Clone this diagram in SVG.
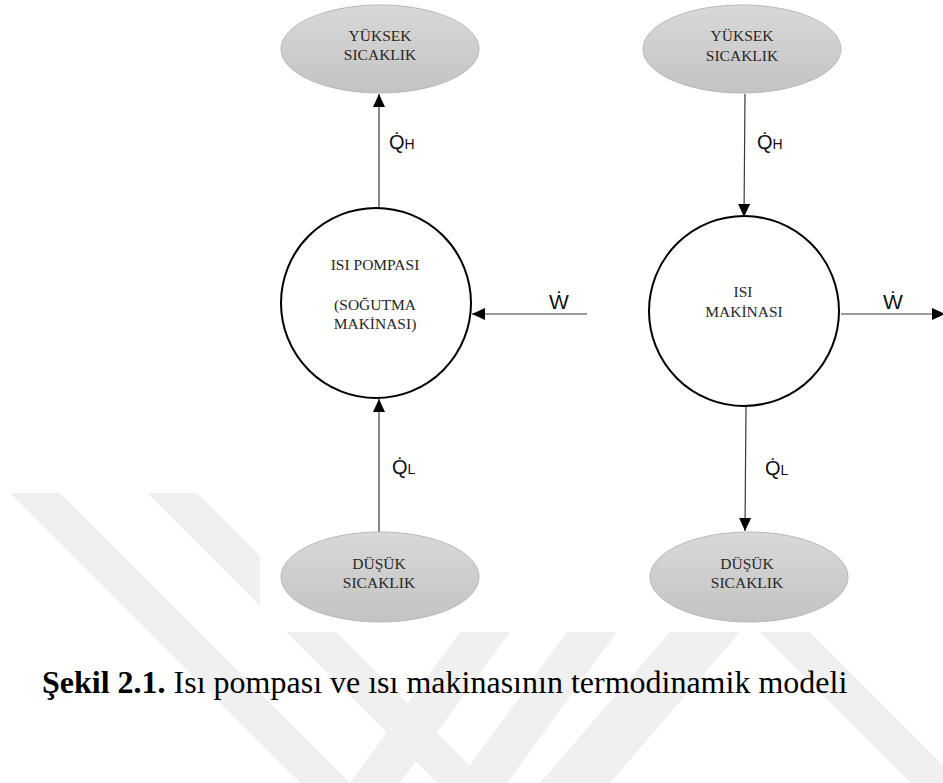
<svg xmlns="http://www.w3.org/2000/svg" width="943" height="783" viewBox="0 0 943 783">
<style>
.node-text{font-family:"Liberation Serif","Times New Roman",serif;font-size:15.5px;fill:#262626;text-anchor:middle}
.lbl{font-family:"Liberation Sans","DejaVu Sans",sans-serif;fill:#111}
.big{font-size:20px}
.sub{font-size:14px}
.w{font-size:21px}
.conn{stroke:#3a3a3a;stroke-width:1.2;fill:none;marker-end:url(#arr)}
.circ{fill:#fff;stroke:#000;stroke-width:2}
.ell{fill:url(#g);stroke:#b8b8b8;stroke-width:1}
.wm{fill:#f0f0f0}
.cap{font-family:"Liberation Serif","Times New Roman",serif;font-size:32px;fill:#000}
</style>
<defs>
<linearGradient id="g" x1="0" y1="0" x2="0" y2="1">
<stop offset="0" stop-color="#d9d9d9"/>
<stop offset="1" stop-color="#c3c3c3"/>
</linearGradient>
<marker id="arr" markerUnits="userSpaceOnUse" markerWidth="13" markerHeight="12" refX="13" refY="6" orient="auto">
<path d="M0,0 L13,6 L0,12 z" fill="#000"/>
</marker>
</defs>
<rect width="943" height="783" fill="#fff"/>
<g id="watermark">
<polygon class="wm" points="10,493 60,493 350,783 300,783"/>
<polygon class="wm" points="147,493 197,493 487,783 437,783"/>
<polygon class="wm" points="460,632 510,632 400,783 350,783"/>
<polygon class="wm" points="567,632 617,632 507,783 457,783"/>
<polygon class="wm" points="670,632 740,632 610,783 540,783"/>
<polygon class="wm" points="760,632 810,632 943,765 943,783 911,783"/>
</g>
<rect x="260" y="0" width="683" height="632" fill="#fff"/>
<g id="connectors">
<line class="conn" x1="379" y1="209" x2="379" y2="94"/>
<line class="conn" x1="587" y1="314" x2="472" y2="314"/>
<line class="conn" x1="379" y1="532" x2="379" y2="399"/>
<line class="conn" x1="745" y1="94" x2="744" y2="217"/>
<line class="conn" x1="841" y1="314" x2="945" y2="314"/>
<line class="conn" x1="746" y1="407" x2="745" y2="531"/>
</g>
<g id="hp-high">
<ellipse class="ell" cx="380" cy="49" rx="99" ry="44"/>
<text class="node-text" x="380" y="41">YÜKSEK</text>
<text class="node-text" x="380" y="60">SICAKLIK</text>
</g>
<g id="heat-pump">
<circle class="circ" cx="376" cy="303" r="95"/>
<text class="node-text" x="375" y="270">ISI POMPASI</text>
<text class="node-text" x="375" y="310">(SOĞUTMA</text>
<text class="node-text" x="375" y="329">MAKİNASI)</text>
</g>
<g id="hp-low">
<ellipse class="ell" cx="380" cy="577" rx="99" ry="45"/>
<text class="node-text" x="379" y="569">DÜŞÜK</text>
<text class="node-text" x="379" y="588">SICAKLIK</text>
</g>
<g id="he-high">
<ellipse class="ell" cx="742" cy="49" rx="99" ry="44"/>
<text class="node-text" x="742" y="41">YÜKSEK</text>
<text class="node-text" x="742" y="61">SICAKLIK</text>
</g>
<g id="heat-engine">
<circle class="circ" cx="744" cy="311" r="95"/>
<text class="node-text" x="743" y="297">ISI</text>
<text class="node-text" x="744" y="317">MAKİNASI</text>
</g>
<g id="he-low">
<ellipse class="ell" cx="749" cy="577" rx="99" ry="45"/>
<text class="node-text" x="747" y="569">DÜŞÜK</text>
<text class="node-text" x="747" y="588">SICAKLIK</text>
</g>
<g id="labels">
<text class="lbl" x="389" y="149"><tspan class="big">Q&#x307;</tspan><tspan class="sub">H</tspan></text>
<text class="lbl" x="757" y="149"><tspan class="big">Q&#x307;</tspan><tspan class="sub">H</tspan></text>
<text class="lbl w" x="549" y="309">W&#x307;</text>
<text class="lbl w" x="883" y="309">W&#x307;</text>
<text class="lbl" x="392" y="474"><tspan class="big">Q&#x307;</tspan><tspan class="sub">L</tspan></text>
<text class="lbl" x="765" y="475"><tspan class="big">Q&#x307;</tspan><tspan class="sub">L</tspan></text>
</g>
<g id="caption">
<text class="cap" x="42" y="693"><tspan font-weight="bold">Şekil 2.1.</tspan> Isı pompası ve ısı makinasının termodinamik modeli</text>
</g>
</svg>
